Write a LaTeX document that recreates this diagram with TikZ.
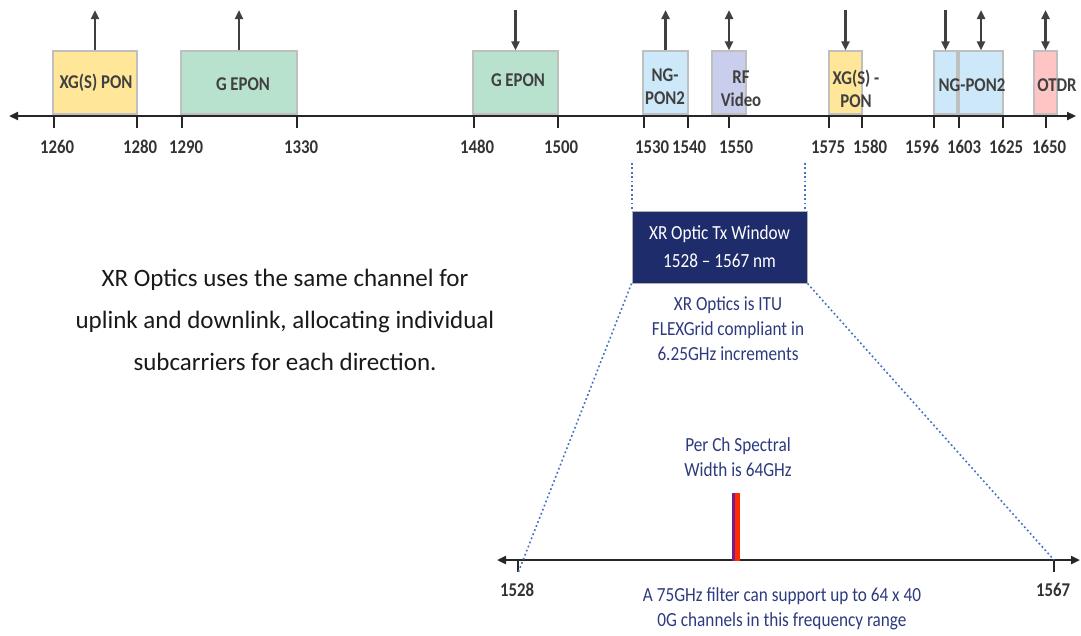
\documentclass[tikz,border=0pt]{standalone}
\usepackage{fontspec}
\setmainfont{Carlito}
\newfontfamily\narrowfont{Carlito}[FakeStretch=0.86, Ligatures=TeX]
\usetikzlibrary{arrows.meta,positioning}
\definecolor{pyellow}{HTML}{FFE699}
\definecolor{pgreen}{HTML}{B8E2CE}
\definecolor{pblue}{HTML}{CDE8F8}
\definecolor{plav}{HTML}{C9CEEC}
\definecolor{ppink}{HTML}{FFC4C4}
\definecolor{edgegray}{HTML}{BFBFBF}
\definecolor{txtgray}{HTML}{404040}
\definecolor{navy}{HTML}{1F2C6B}
\definecolor{notenavy}{HTML}{2E3A7E}
\definecolor{dotblue}{HTML}{4472C4}
\definecolor{chred}{HTML}{FF2A00}
\definecolor{chpurple}{HTML}{7A1E8C}

\begin{document}
\begin{tikzpicture}[x=1pt, y=-1pt,
  band/.style={draw=edgegray, line width=1.2pt, inner sep=0pt, minimum height=63pt},
  bandtext/.style={text=txtgray, font=\narrowfont\fontsize{19.5}{23}\selectfont\bfseries, align=center, inner sep=0pt},
  ticklabel/.style={text=black!80, font=\narrowfont\fontsize{19.5}{19}\selectfont\bfseries},
  upflow/.style={line width=2.5pt, txtgray, -{Triangle[length=9pt,width=8pt]}},
  downflow/.style={line width=2.5pt, txtgray, {Triangle[length=9pt,width=8pt]}-},
  dualflow/.style={line width=2.5pt, txtgray, {Triangle[length=9pt,width=8pt]}-{Triangle[length=9pt,width=8pt]}},
  axis/.style={line width=2.5pt, black!85, {Triangle[length=9pt,width=8pt]}-{Triangle[length=9pt,width=8pt]}},
  tickmark/.style={line width=1.5pt, black!85},
  zoomline/.style={dotblue, line width=1.6pt, dash pattern=on 1.8pt off 2.6pt},
  note/.style={text=notenavy, font=\narrowfont\fontsize{20}{25}\selectfont, align=center}]
  \useasboundingbox (0,0) rectangle (1081,635);
  % Spectrum axis
  \coordinate (axL) at (9,116);
  \coordinate (axR) at (1076,116);
  \coordinate (sky) at (0,10);
  \draw[axis] (axL) -- (axR);
  \foreach \t/\l/\v in {54/57/1260, 137/140/1280, 182/186/1290, 297/301/1330,
      474/477/1480, 558/561/1500, 644/652/1530, 688/689/1540, 729/736/1550,
      829/828/1575, 862/870/1580, 934/922/1596, 959/964/1603, 1003/1006/1625,
      1046/1049/1650}
  {
    \draw[tickmark] (\t,116) -- (\t,128);
    \node[ticklabel] (lab\v) at (\l,147) {\v};
  }
  % Bands with their directions
  \foreach \name/\xa/\xb/\col/\kind in {xgsup/53/137/pyellow/upflow,
      geup/181/297/pgreen/upflow, gedown/473/558/pgreen/downflow,
      ngup/643/688/pblue/upflow, rfv/712/746/plav/dualflow,
      xgsdown/829/862/pyellow/downflow, ngdown/934/957/pblue/downflow,
      ngdual/959/1003/pblue/dualflow, otdr/1034/1057/ppink/dualflow}
  {
    \node[band, fill=\col, minimum width=\xb-\xa] (\name) at ({(\xa+\xb)/2},82.5) {};
    \draw[\kind] (\name.north) -- (\name.north |- sky);
  }
  % Band names
  \node[bandtext] (xgsupname) at (96,83) {XG(S) PON};
  \node[bandtext] (geupname) at (243,84) {G EPON};
  \node[bandtext] (gedownname) at (518,80) {G EPON};
  \node[bandtext] (ngupname) at (665,86.5) {NG-\\PON2};
  \node[bandtext] (rfvname) at (741,88.5) {RF\\Video};
  \node[bandtext] (xgsdownname) at (856,88.5) {XG(S) -\\PON};
  \node[bandtext] (ngname) at (972,85) {NG-PON2};
  \node[bandtext] (otdrname) at (1057,85) {OTDR};
  % Statement on the left
  \node[font=\fontsize{25}{42}\selectfont, text=black!90, align=center] (claim) at (285,320)
    {XR Optics uses the same channel for\\uplink and downlink, allocating individual\\subcarriers for each direction.};
  % XR optic window
  \node[draw=gray!60, line width=1pt, fill=navy, text=white, minimum width=175pt, minimum height=72pt,
    align=center, font=\narrowfont\fontsize{20}{28}\selectfont] (win) at (719.5,247) {XR Optic Tx Window\\1528 – 1567 nm};
  \coordinate (w1528) at (632,163);
  \coordinate (w1567) at (805,163);
  \draw[zoomline] (w1528) -- (w1528 |- win.north);
  \draw[zoomline] (w1567) -- (w1567 |- win.north);
  \node[note] (itu) at (728,329) {XR Optics is ITU\\FLEXGrid compliant in\\6.25GHz increments};
  % Zoomed axis 1528 - 1567
  \coordinate (bL) at (497,560);
  \coordinate (bR) at (1080,560);
  \coordinate (b1528) at (518,573);
  \coordinate (b1567) at (1054,560);
  \draw[axis] (bL) -- (bR);
  \draw[tickmark] (518,560) -- (518,572);
  \draw[tickmark] (1054,560) -- (1054,572);
  \node[ticklabel] (lab1528) at (517,590) {1528};
  \node[ticklabel] (lab1567) at (1053,590) {1567};
  \draw[zoomline] (win.south west) -- (b1528);
  \draw[zoomline] (win.south east) -- (b1567);
  % One channel
  \fill[chred] (734,493) rectangle (739.5,561);
  \fill[chpurple] (732,493) rectangle (734.5,561);
  \node[note] (chwidth) at (738,457.5) {Per Ch Spectral\\Width is 64GHz};
  \node[note] (filter) at (782,608.5) {A 75GHz filter can support up to 64 x 40\\0G channels in this frequency range};
\end{tikzpicture}
\end{document}
